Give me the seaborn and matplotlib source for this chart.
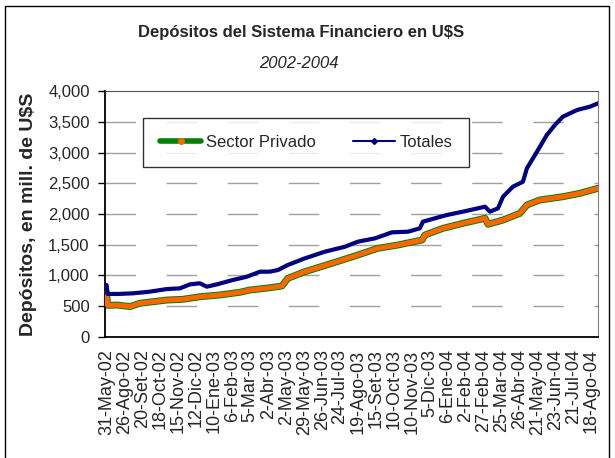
import pandas as pd
import matplotlib
matplotlib.use("Agg")
import matplotlib.pyplot as plt
import seaborn as sns
from matplotlib.lines import Line2D
from matplotlib.patches import Rectangle
from matplotlib.ticker import FuncFormatter

sns.set_style("white")
plt.rcParams['font.family'] = ['Liberation Sans', 'DejaVu Sans']

# category labels shown on the x axis (one every N observations)
date_labels = ['31-May-02', '26-Ago-02', '20-Set-02', '18-Oct-02', '15-Nov-02',
               '12-Dic-02', '10-Ene-03', '6-Feb-03', '5-Mar-03', '2-Abr-03',
               '2-May-03', '29-May-03', '26-Jun-03', '24-Jul-03', '19-Ago-03',
               '15-Set-03', '10-Oct-03', '10-Nov-03', '5-Dic-03', '6-Ene-04',
               '2-Feb-04', '27-Feb-04', '25-Mar-04', '26-Abr-04', '21-May-04',
               '23-Jun-04', '21-Jul-04', '18-Ago-04']

# positions along the category axis (in label intervals) and values
tot_pos = [0.0, 0.05, 0.63, 1.46, 2.41, 3.36, 4.08, 4.64, 5.19, 5.58, 6.14, 7.03,
           7.81, 8.54, 9.09, 9.54, 10.09, 11.04, 12.15, 13.27, 13.99, 14.94,
           15.89, 16.78, 17.44, 17.61, 18.28, 18.95, 19.84, 21.07, 21.34, 21.79,
           22.07, 22.62, 23.18, 23.40, 23.96, 24.51, 24.96, 25.40, 26.19, 26.91,
           27.36]
tot_val = [845, 700, 700, 710, 737, 780, 791, 856, 873, 818, 856, 927,
           980, 1062, 1062, 1089, 1171, 1279, 1387, 1468, 1550, 1604,
           1702, 1712, 1767, 1875, 1930, 1984, 2038, 2119, 2038, 2092,
           2281, 2444, 2525, 2743, 3013, 3285, 3447, 3582, 3691, 3745,
           3800]

priv_pos = [0.0, 0.05, 0.57, 1.30, 1.85, 3.36, 4.25, 5.19, 6.31, 7.42, 7.98,
            8.82, 9.76, 10.09, 11.04, 12.54, 13.82, 15.10, 16.22, 17.56, 17.72,
            18.73, 19.84, 21.07, 21.24, 22.07, 23.01, 23.40, 24.12, 25.40,
            26.35, 27.36]
priv_val = [720, 515, 520, 495, 548, 601, 613, 655, 683, 727, 764,
            791, 829, 954, 1062, 1198, 1317, 1442, 1496, 1577, 1658,
            1767, 1849, 1930, 1833, 1902, 2011, 2146, 2228, 2281,
            2336, 2418]

tot = pd.DataFrame({'pos': tot_pos, 'val': tot_val})
priv = pd.DataFrame({'pos': priv_pos, 'val': priv_val})

fig = plt.figure(figsize=(6.15, 4.58), dpi=100)
ax = fig.add_axes([0.1707, 0.2642, 0.8017, 0.5371])

# dashed horizontal gridlines behind the data
for yv in range(500, 4000, 500):
    ax.axhline(yv, color='#a0a0a0', lw=1.0, dashes=(22, 22), zorder=0)

sns.lineplot(data=priv, x='pos', y='val', ax=ax, color='#008000', lw=5, zorder=2)
sns.lineplot(data=priv, x='pos', y='val', ax=ax, color='#ff6600', lw=3.6, zorder=3)
sns.lineplot(data=tot, x='pos', y='val', ax=ax, color='#000080', lw=3.0, zorder=4)

ax.set_xlim(-0.09, 27.36)
ax.set_ylim(0, 4000)
ax.set_xticks(range(len(date_labels)))
ax.set_xticklabels(date_labels, rotation=90, fontsize=13)
ax.set_yticks(range(0, 4001, 500))
ax.yaxis.set_major_formatter(FuncFormatter(lambda v, p: f"{int(v):,}"))
ax.tick_params(axis='y', labelsize=12, length=5, width=1, color='black',
               direction='out', left=True, pad=6)
ax.tick_params(axis='x', length=0, pad=9)
ax.set_xlabel('')
ax.set_ylabel('Depósitos, en mill. de U$S', fontsize=14, fontweight='bold', labelpad=8)

for side in ['left', 'bottom']:
    ax.spines[side].set_color('black')
    ax.spines[side].set_linewidth(1.3)
ax.spines['top'].set_color('#505050')
ax.spines['right'].set_color('#808080')

handles = [
    Line2D([], [], color='#008000', lw=4, marker='o', markersize=4,
           markerfacecolor='#ff6600', markeredgecolor='#ff6600'),
    Line2D([], [], color='#000080', lw=1.5, marker='D', markersize=3),
]
ax.legend(handles, ['Sector Privado', 'Totales'], ncol=2, loc='center',
          bbox_to_anchor=(0.408, 0.79), fontsize=12, frameon=True,
          fancybox=False, edgecolor='black', handlelength=2.5,
          handletextpad=0.3, columnspacing=2.2, borderpad=1.0)

fig.text(0.489, 0.928, 'Depósitos del Sistema Financiero en U$S',
         ha='center', va='center', fontsize=12, fontweight='bold')
fig.text(0.486, 0.862, '2002-2004', ha='center', va='center',
         fontsize=12, style='italic')

# outer chart border
fig.patches.append(Rectangle((0.0081, -0.05), 0.982, 1.037, transform=fig.transFigure,
                             fill=False, edgecolor='black', lw=1))

fig.savefig('out.png', dpi=100)
